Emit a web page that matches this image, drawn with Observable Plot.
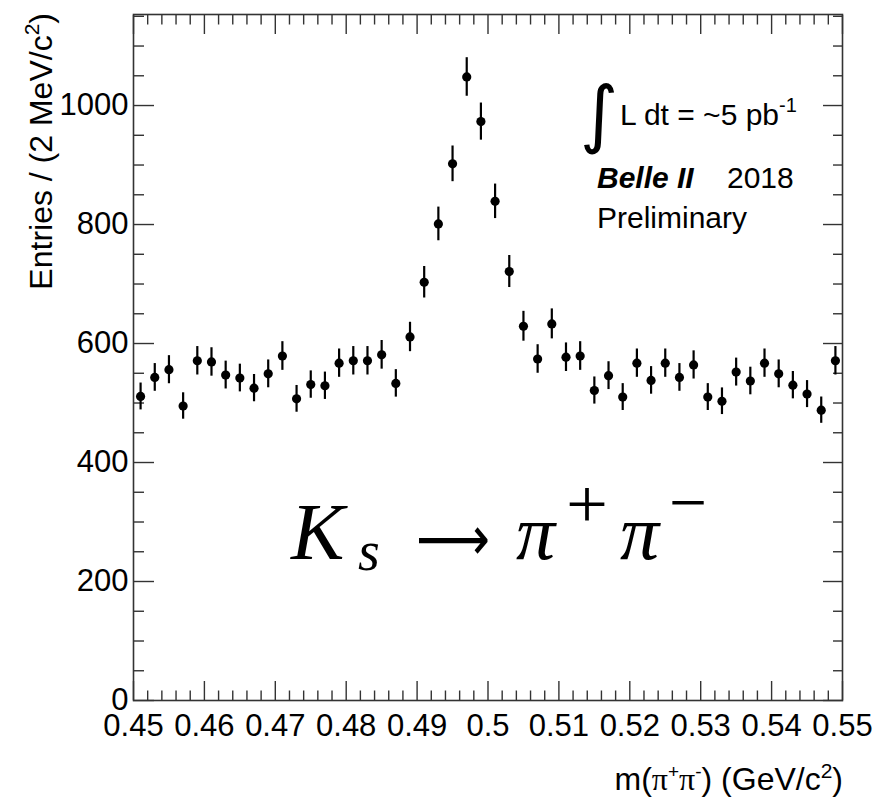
<!DOCTYPE html>
<html>
<head>
<meta charset="utf-8">
<script src="https://cdn.jsdelivr.net/npm/d3@7"></script>
<script src="https://cdn.jsdelivr.net/npm/@observablehq/plot@0.6"></script>
<style>
  html, body { margin: 0; padding: 0; background: white; }
  #chart { width: 878px; height: 798px; }
</style>
</head>
<body>
<div id="chart"></div>
<script>
// Bin centres of m(pi+ pi-) in GeV/c^2 (2 MeV bins)
const massBins = [0.451, 0.453, 0.455, 0.457, 0.459, 0.461, 0.463, 0.465, 0.467, 0.469,
                  0.471, 0.473, 0.475, 0.477, 0.479, 0.481, 0.483, 0.485, 0.487, 0.489,
                  0.491, 0.493, 0.495, 0.497, 0.499, 0.501, 0.503, 0.505, 0.507, 0.509,
                  0.511, 0.513, 0.515, 0.517, 0.519, 0.521, 0.523, 0.525, 0.527, 0.529,
                  0.531, 0.533, 0.535, 0.537, 0.539, 0.541, 0.543, 0.545, 0.547, 0.549];
// Entries per bin
const entries = [511, 543, 556, 495, 571, 569, 547, 542, 525, 549,
                 579, 507, 531, 529, 567, 571, 571, 581, 533, 611,
                 703, 801, 902, 1048, 973, 839, 721, 629, 574, 633,
                 577, 579, 521, 546, 510, 567, 538, 567, 543, 564,
                 510, 503, 552, 537, 567, 549, 530, 515, 488, 571];
// Error bar half-lengths
const errors = [22.6, 23.3, 23.6, 22.2, 23.9, 23.9, 23.4, 23.3, 22.9, 23.4,
                24.1, 22.5, 23.0, 23.0, 23.8, 23.9, 23.9, 24.1, 23.1, 24.7,
                26.5, 28.3, 30.0, 32.4, 31.2, 29.0, 26.9, 25.1, 24.0, 25.2,
                24.0, 24.1, 22.8, 23.4, 22.6, 23.8, 23.2, 23.8, 23.3, 23.7,
                22.6, 22.4, 23.5, 23.2, 23.8, 23.4, 23.0, 22.7, 22.1, 23.9];
// Axis ticks and labels
const xMajorTicks = [0.45, 0.46, 0.47, 0.48, 0.49, 0.5, 0.51, 0.52, 0.53, 0.54, 0.55];
const xTickLabels = ["0.45", "0.46", "0.47", "0.48", "0.49", "0.5", "0.51", "0.52", "0.53", "0.54", "0.55"];
const yMajorTicks = [0, 200, 400, 600, 800, 1000];
const yTickLabels = ["0", "200", "400", "600", "800", "1000"];

const xMinorTicks = d3.range(0, 51).map(i => +(0.45 + i * 0.002).toFixed(3))
  .filter(v => !xMajorTicks.some(m => Math.abs(m - v) < 1e-9));
const yMinorTicks = d3.range(50, 1151, 50).filter(v => v % 200 !== 0);

const data = massBins.map((m, i) => ({m, n: entries[i], e: errors[i]}));

const axisColor = "#333";
const sans = "'Liberation Sans', Arial, Helvetica, sans-serif";

const plot = Plot.plot({
  width: 878,
  height: 798,
  marginLeft: 133,
  marginRight: 36,
  marginTop: 14,
  marginBottom: 98,
  style: {fontFamily: sans, fontSize: "31px", color: "#000", background: "white", overflow: "visible"},
  x: {domain: [0.45, 0.55], axis: null},
  y: {domain: [0, 1153], axis: null},
  marks: [
    // tick labels
    Plot.axisX(xMajorTicks, {anchor: "bottom", tickSize: 0, tickPadding: 13, label: null,
      tickFormat: d => xTickLabels[xMajorTicks.indexOf(d)], fontSize: 31, fill: "#000"}),
    Plot.axisY(yMajorTicks, {anchor: "left", tickSize: 0, tickPadding: 5, label: null, dy: 0,
      tickFormat: d => yTickLabels[yMajorTicks.indexOf(d)], fontSize: 31, fill: "#000"}),
    // inward ticks, all four sides
    Plot.axisX(xMajorTicks, {anchor: "bottom", tickSize: -19, text: null, label: null, stroke: axisColor, strokeWidth: 1.4}),
    Plot.axisX(xMinorTicks, {anchor: "bottom", tickSize: -9.5, text: null, label: null, stroke: axisColor, strokeWidth: 1.4}),
    Plot.axisX(xMajorTicks, {anchor: "top", tickSize: -19, text: null, label: null, stroke: axisColor, strokeWidth: 1.4}),
    Plot.axisX(xMinorTicks, {anchor: "top", tickSize: -9.5, text: null, label: null, stroke: axisColor, strokeWidth: 1.4}),
    Plot.axisY(yMajorTicks, {anchor: "left", tickSize: -21, text: null, label: null, stroke: axisColor, strokeWidth: 1.4}),
    Plot.axisY(yMinorTicks, {anchor: "left", tickSize: -11, text: null, label: null, stroke: axisColor, strokeWidth: 1.4}),
    Plot.axisY(yMajorTicks, {anchor: "right", tickSize: -20, text: null, label: null, stroke: axisColor, strokeWidth: 1.4}),
    Plot.axisY(yMinorTicks, {anchor: "right", tickSize: -10, text: null, label: null, stroke: axisColor, strokeWidth: 1.4}),
    Plot.frame({stroke: axisColor, strokeWidth: 1.6}),
    // data
    Plot.ruleX(data, {x: "m", y1: d => d.n - d.e, y2: d => d.n + d.e, stroke: "#000", strokeWidth: 2.2}),
    Plot.dot(data, {x: "m", y: "n", r: 4.6, fill: "#000", stroke: null})
  ]
});

const svg = d3.select(plot);
const g = svg.append("g").attr("font-family", sans).attr("fill", "#000").attr("text-anchor", "start");

// y axis title
const yt = g.append("text")
  .attr("transform", "translate(52,13) rotate(-90)")
  .attr("text-anchor", "end")
  .attr("font-size", 32);
yt.append("tspan").text("Entries / (2 MeV/c");
yt.append("tspan").attr("font-size", 21).attr("dy", -13).text("2");
yt.append("tspan").attr("dy", 13).text(")");

// x axis title
const xt = g.append("text")
  .attr("x", 843).attr("y", 790)
  .attr("text-anchor", "end")
  .attr("font-size", 32);
xt.append("tspan").text("m(");
xt.append("tspan").attr("font-family", "'Liberation Serif', serif").text("π");
xt.append("tspan").attr("font-size", 19).attr("dy", -12).text("+");
xt.append("tspan").attr("font-family", "'Liberation Serif', serif").attr("dy", 12).text("π");
xt.append("tspan").attr("font-size", 19).attr("dy", -12).text("-");
xt.append("tspan").attr("dy", 12).text(") (GeV/c");
xt.append("tspan").attr("font-size", 21).attr("dy", -12).text("2");
xt.append("tspan").attr("dy", 12).text(")");

// luminosity / experiment labels
g.append("text").attr("x", 580).attr("y", 139).attr("font-size", 74)
  .attr("font-family", "'DejaVu Sans', sans-serif").text("∫");
const lum = g.append("text").attr("x", 620).attr("y", 125).attr("font-size", 30);
lum.append("tspan").text("L dt = ~5 pb");
lum.append("tspan").attr("font-size", 20).attr("dy", -13).text("-1");

g.append("text").attr("x", 597).attr("y", 188).attr("font-size", 30)
  .attr("font-weight", "bold").attr("font-style", "italic").text("Belle II");
g.append("text").attr("x", 727).attr("y", 188).attr("font-size", 30).text("2018");
g.append("text").attr("x", 597).attr("y", 228).attr("font-size", 30).text("Preliminary");

// decay formula
const serif = "'Liberation Serif', 'Times New Roman', serif";
const f = g.append("g").attr("font-family", serif);
f.append("text").attr("x", 291).attr("y", 559).attr("font-size", 80).attr("font-style", "italic").text("K");
f.append("text").attr("x", 358).attr("y", 570).attr("font-size", 56).attr("font-style", "italic").text("s");
f.append("text").attr("x", 416).attr("y", 560).attr("font-size", 62)
  .attr("font-family", "'DejaVu Sans', sans-serif")
  .attr("textLength", 74).attr("lengthAdjust", "spacingAndGlyphs").text("⟶");
f.append("text").attr("x", 516).attr("y", 559).attr("font-size", 78).attr("font-style", "italic").text("π");
f.append("text").attr("x", 566).attr("y", 528).attr("font-size", 70)
  .attr("textLength", 42).attr("lengthAdjust", "spacingAndGlyphs").text("+");
f.append("text").attr("x", 620).attr("y", 559).attr("font-size", 78).attr("font-style", "italic").text("π");
f.append("text").attr("x", 669).attr("y", 526).attr("font-size", 70)
  .attr("textLength", 38).attr("lengthAdjust", "spacingAndGlyphs").text("−");

document.getElementById("chart").appendChild(plot);
</script>
</body>
</html>
